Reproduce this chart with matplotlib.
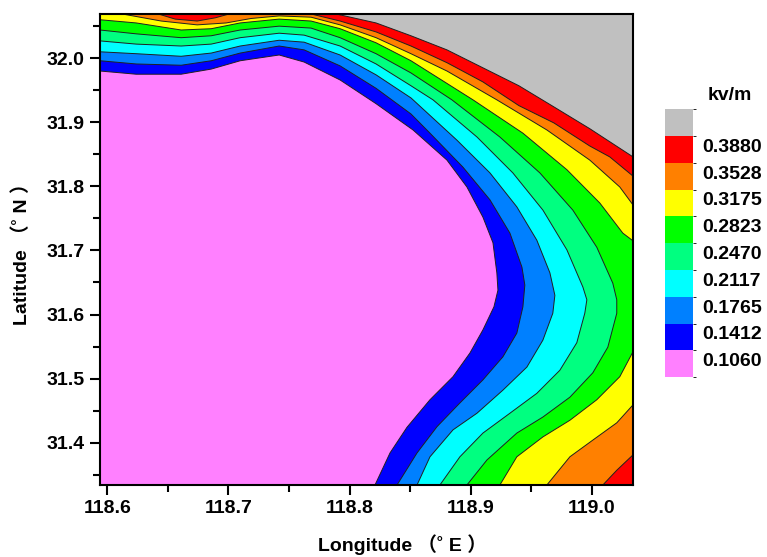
import matplotlib as mpl
mpl.use('Agg')
import matplotlib.pyplot as plt
from matplotlib.colors import ListedColormap, BoundaryNorm
from matplotlib.cm import ScalarMappable
from matplotlib.ticker import MultipleLocator, FormatStrFormatter

plt.rcParams['font.family'] = ['Liberation Sans', 'Noto Sans CJK SC', 'DejaVu Sans']

levels = [0.1060, 0.1412, 0.1765, 0.2117, 0.2470, 0.2823, 0.3175, 0.3528, 0.3880]
colors = ['#FF80FF', '#0000FF', '#0080FF', '#00FFFF', '#00FF80',
          '#00FF00', '#FFFF00', '#FF8000', '#FF0000', '#C0C0C0']

xlim = (118.594, 119.034)
ylim = (31.334, 32.069)

# contour lines, (lon, lat) from the left/top edge to the right/bottom edge
lon_0106 = [118.594, 118.6239, 118.6610, 118.6858, 118.7097, 118.7419, 118.7625, 118.7922, 118.8219,
            118.8524, 118.8804, 118.8969, 118.9101, 118.9184, 118.9216, 118.9225, 118.9192, 118.9101,
            118.8994, 118.8854, 118.8664, 118.8474, 118.8334, 118.8210]
lat_0106 = [31.980, 31.975, 31.975, 31.983, 31.996, 32.005, 31.994, 31.966, 31.929,
            31.888, 31.841, 31.799, 31.752, 31.712, 31.665, 31.638, 31.612, 31.576,
            31.540, 31.503, 31.467, 31.424, 31.384, 31.334]

lon_0141 = [118.594, 118.6239, 118.6610, 118.6858, 118.7097, 118.7419, 118.7625, 118.7922, 118.8219,
            118.8507, 118.8664, 118.8936, 118.9159, 118.9324, 118.9423, 118.9447, 118.9431, 118.9381,
            118.9266, 118.9101, 118.8911, 118.8722, 118.8557, 118.8392]
lat_0141 = [31.996, 31.991, 31.989, 31.996, 32.008, 32.019, 32.013, 31.988, 31.953,
            31.913, 31.883, 31.830, 31.779, 31.727, 31.674, 31.646, 31.612, 31.571,
            31.534, 31.498, 31.462, 31.425, 31.384, 31.334]

lon_0177 = [118.594, 118.6239, 118.6610, 118.6858, 118.7097, 118.7419, 118.7625, 118.7922, 118.8219,
            118.8507, 118.8887, 118.9159, 118.9381, 118.9546, 118.9654, 118.9695, 118.9678, 118.9596,
            118.9464, 118.9266, 118.9052, 118.8854, 118.8664, 118.8557]
lat_0177 = [32.010, 32.007, 32.003, 32.008, 32.019, 32.028, 32.025, 32.005, 31.974,
            31.938, 31.872, 31.821, 31.768, 31.716, 31.665, 31.630, 31.602, 31.560,
            31.518, 31.482, 31.446, 31.420, 31.378, 31.334]

lon_0212 = [118.594, 118.6239, 118.6610, 118.6858, 118.7097, 118.7419, 118.7625, 118.7922, 118.8219,
            118.8507, 118.8689, 118.9052, 118.9348, 118.9596, 118.9794, 118.9926, 118.9959, 118.9942,
            118.9876, 118.9736, 118.9546, 118.9324, 118.9101, 118.8911, 118.8746]
lat_0212 = [32.027, 32.022, 32.019, 32.022, 32.032, 32.039, 32.036, 32.019, 31.991,
            31.957, 31.935, 31.877, 31.821, 31.763, 31.701, 31.643, 31.623, 31.602,
            31.556, 31.513, 31.477, 31.446, 31.415, 31.378, 31.334]

lon_0247 = [118.594, 118.6239, 118.6610, 118.6858, 118.7097, 118.7419, 118.7682, 118.7922, 118.8219,
            118.8507, 118.8845, 118.9241, 118.9571, 118.9843, 119.0041, 119.0173, 119.0206, 119.0206,
            119.0132, 119.0008, 118.9819, 118.9596, 118.9381, 118.9134, 118.8969]
lat_0247 = [32.044, 32.038, 32.032, 32.035, 32.044, 32.050, 32.047, 32.032, 32.007,
            31.977, 31.935, 31.877, 31.821, 31.763, 31.705, 31.649, 31.623, 31.602,
            31.549, 31.509, 31.471, 31.440, 31.415, 31.373, 31.334]

lon_0282 = [118.594, 118.6239, 118.6610, 118.6858, 118.7097, 118.7419, 118.7682, 118.7922, 118.8219,
            118.8507, 118.9019, 118.9431, 118.9794, 119.0066, 119.0256, 119.034]
lat_0282 = [32.060, 32.055, 32.044, 32.046, 32.055, 32.061, 32.058, 32.046, 32.024,
            31.996, 31.935, 31.883, 31.826, 31.774, 31.727, 31.715]
lon_0282_lo = [119.034, 119.0231, 119.0041, 118.9819, 118.9596, 118.9381, 118.9241]
lat_0282_lo = [31.542, 31.503, 31.467, 31.435, 31.409, 31.378, 31.334]

lon_0318 = [118.6124, 118.6445, 118.6742, 118.6981, 118.7188, 118.7419, 118.7682, 118.7922, 118.8219,
            118.8507, 118.8804, 118.9216, 118.9629, 118.9983, 119.0231, 119.034]
lat_0318 = [32.069, 32.058, 32.052, 32.055, 32.062, 32.066, 32.064, 32.052, 32.032,
            32.007, 31.980, 31.935, 31.888, 31.841, 31.799, 31.771]
lon_0318_lo = [119.034, 119.0206, 119.0008, 118.9819, 118.9629]
lat_0318_lo = [31.459, 31.431, 31.404, 31.378, 31.334]

lon_0353 = [118.6421, 118.6561, 118.6742, 118.6891, 118.7006, 118.7340, 118.7682, 118.7922, 118.8219,
            118.8507, 118.8804, 118.9101, 118.9398, 118.9687, 118.9983, 119.0148, 119.034]
lat_0353 = [32.069, 32.061, 32.058, 32.063, 32.069, 32.080, 32.069, 32.058, 32.041,
            32.019, 31.993, 31.963, 31.926, 31.899, 31.863, 31.846, 31.816]
lon_0353_lo = [119.034, 119.0206, 119.0091]
lat_0353_lo = [31.381, 31.357, 31.334]

lon_0388 = [118.7889, 118.8219, 118.8507, 118.8804, 118.9101, 118.9398, 118.9687, 118.9983, 119.034]
lat_0388 = [32.069, 32.055, 32.035, 32.013, 31.985, 31.957, 31.924, 31.890, 31.846]

# (lon, lat, colour of the higher side, piece) ; 'up' pieces bound the upper right, 'lo' the lower right
pieces = [
    (lon_0106, lat_0106, 1, 'up'),
    (lon_0141, lat_0141, 2, 'up'),
    (lon_0177, lat_0177, 3, 'up'),
    (lon_0212, lat_0212, 4, 'up'),
    (lon_0247, lat_0247, 5, 'up'),
    (lon_0282, lat_0282, 6, 'up'),
    (lon_0282_lo, lat_0282_lo, 6, 'lo'),
    (lon_0318, lat_0318, 7, 'up'),
    (lon_0318_lo, lat_0318_lo, 7, 'lo'),
    (lon_0353, lat_0353, 8, 'up'),
    (lon_0353_lo, lat_0353_lo, 8, 'lo'),
    (lon_0388, lat_0388, 9, 'up'),
]

fig = plt.figure(figsize=(7.67, 5.57), dpi=100)
ax = fig.add_axes([0.1304, 0.1293, 0.6949, 0.8456])
ax.set_facecolor(colors[0])

x0, x1 = xlim
y0, y1 = ylim
for lon, lat, k, side in pieces:
    if side == 'up':
        px = list(lon) + [x1 + 1, x1 + 1, x0 - 1]
        py = list(lat) + [y0 - 1, y1 + 1, y1 + 1]
    else:
        px = list(lon) + [x1 + 1]
        py = list(lat) + [y0 - 1]
    ax.fill(px, py, color=colors[k], lw=0)
for lon, lat, k, side in pieces:
    ax.plot(lon, lat, color='#202020', lw=0.7)

ax.set_xlim(xlim)
ax.set_ylim(ylim)
ax.xaxis.set_major_locator(MultipleLocator(0.1))
ax.xaxis.set_minor_locator(MultipleLocator(0.05))
ax.yaxis.set_major_locator(MultipleLocator(0.1))
ax.yaxis.set_minor_locator(MultipleLocator(0.05))
ax.xaxis.set_major_formatter(FormatStrFormatter('%.1f'))
ax.yaxis.set_major_formatter(FormatStrFormatter('%.1f'))
ax.tick_params(which='major', direction='out', length=7, width=1.5, labelsize=14, pad=4)
ax.tick_params(which='minor', direction='out', length=5, width=1.5)
for t in ax.get_xticklabels() + ax.get_yticklabels():
    t.set_fontweight('bold')
for s in ax.spines.values():
    s.set_linewidth(1.5)

ax.set_xlabel('Longitude （˚ E ）', fontsize=14, fontweight='bold')
ax.set_ylabel('Latitude （˚ N ）', fontsize=14, fontweight='bold')
ax.xaxis.set_label_coords(0.568, -0.105)
ax.yaxis.set_label_coords(-0.13, 0.5)

# colour key
step = levels[1] - levels[0]
bounds = [levels[0] - step] + levels + [levels[-1] + step]
sm = ScalarMappable(norm=BoundaryNorm(bounds, len(colors)), cmap=ListedColormap(colors))
cax = fig.add_axes([0.867, 0.323, 0.0365, 0.481])
cb = fig.colorbar(sm, cax=cax)
cb.set_ticks([v - 0.35 * step for v in levels], labels=['%.4f' % v for v in levels])
cb.ax.tick_params(length=0, pad=7, labelsize=14)
for t in cb.ax.get_yticklabels():
    t.set_fontweight('bold')
cb.outline.set_visible(False)
fig.text(0.952, 0.829, 'kv/m', fontsize=14, fontweight='bold', ha='center', va='center')

fig.savefig('out.png', dpi=100)
